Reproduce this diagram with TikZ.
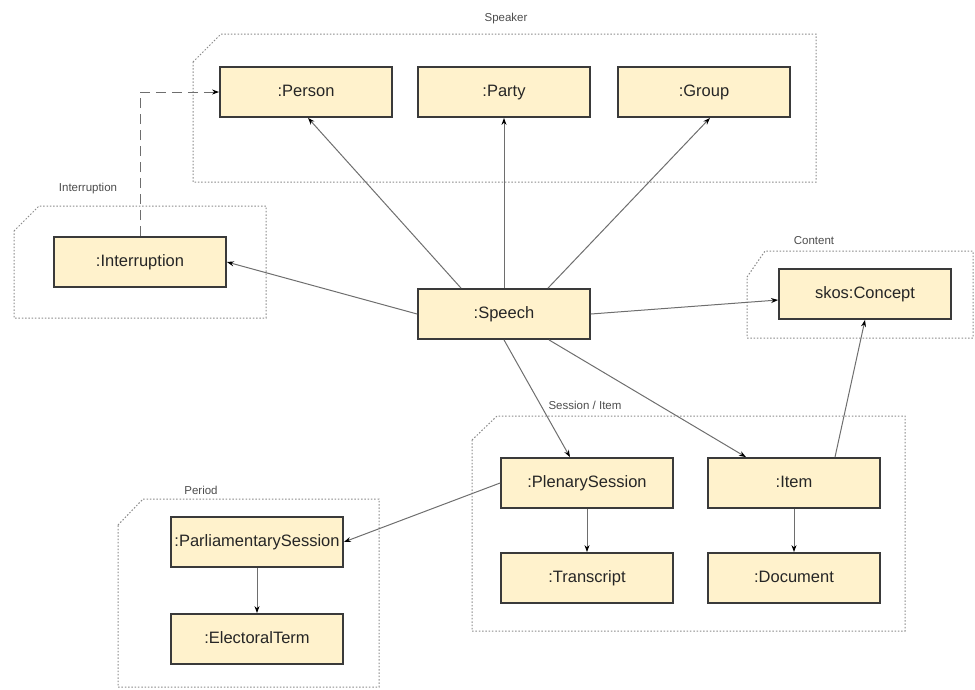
\documentclass[tikz,border=0pt]{standalone}
\usepackage{fontspec}
\setmainfont{Liberation Sans}
\usetikzlibrary{graphs,arrows.meta}
\definecolor{boxfill}{HTML}{FFF2CC}
\definecolor{boxline}{HTML}{3A3A3A}
\definecolor{linegray}{HTML}{6E6E6E}
\definecolor{areagray}{HTML}{8A8A8A}
\tikzset{
    entity/.style ={
        shape=rectangle,
        draw=boxline,
        fill=boxfill,
        line width=1.8pt,
        text=black!85,
        font=\fontsize{16.5}{18}\selectfont,
        text height=12pt,
        text depth=3.5pt,
        minimum width=172pt,
        minimum height=50pt
    },
    rel/.style ={
        draw=linegray,
        line width=1pt,
        ->
    },
    area/.style ={
        draw=areagray,
        line width=1pt,
        dash pattern=on 1.5pt off 1.8pt
    },
    grouplabel/.style ={
        text=black!70,
        font=\fontsize{11.5}{13}\selectfont
    }
}
\begin{document}
\begin{tikzpicture}[x=1pt,y=-1pt,>={Stealth[length=7pt,width=5pt,color=black]}]
    \useasboundingbox (0,0) rectangle (975,689);
    % groups
    \draw[area] (193,62) -- (221,34) -- (816,34) -- (816,182) -- (193,182) -- cycle;
    \draw[area] (14,231) -- (39,206) -- (266,206) -- (266,318) -- (14,318) -- cycle;
    \draw[area] (747,277) -- (765,251) -- (973,251) -- (973,338) -- (747,338) -- cycle;
    \draw[area] (472,440) -- (497,416) -- (905,416) -- (905,631) -- (472,631) -- cycle;
    \draw[area] (118,525) -- (143,499) -- (379,499) -- (379,687) -- (118,687) -- cycle;
    \node[grouplabel] (speakerlabel) at(506,19) {Speaker};
    \node[grouplabel] (interruptionlabel) at(88,189) {Interruption};
    \node[grouplabel] (contentlabel) at(814,241) {Content};
    \node[grouplabel] (sessionlabel) at(585,405) {Session / Item};
    \node[grouplabel] (periodlabel) at(201,490) {Period};
    % classes
    \node[entity] (person) at(306,92) {:Person};
    \node[entity] (party) at(504,92) {:Party};
    \node[entity] (group) at(704,92) {:Group};
    \node[entity] (interruption) at(140,262) {:Interruption};
    \node[entity] (speech) at(504,314) {:Speech};
    \node[entity] (concept) at(865,294) {skos:Concept};
    \node[entity] (plenary) at(587,483) {:PlenarySession};
    \node[entity] (item) at(794,483) {:Item};
    \node[entity] (transcript) at(587,578) {:Transcript};
    \node[entity] (document) at(794,578) {:Document};
    \node[entity] (parliamentary) at(257,542) {:ParliamentarySession};
    \node[entity] (electoral) at(257,639) {:ElectoralTerm};
    % relations
    \draw[rel] ([xshift=-43pt]speech.north) -- ([xshift=2pt]person.south);
    \draw[rel] ([xshift=44pt]speech.north) -- ([xshift=6pt]group.south);
    \draw[rel] (speech.west) -- (interruption.east);
    \draw[rel] (speech.east) -- ([yshift=-6pt]concept.west);
    \draw[rel] (speech.south) -- ([xshift=-17pt]plenary.north);
    \draw[rel] ([xshift=45pt]speech.south) -- ([xshift=-48pt]item.north);
    \draw[rel] ([xshift=41pt]item.north) -- (concept.south);
    \draw[rel] (plenary.west) -- (parliamentary.east);
    \draw[rel, dash pattern=on 10pt off 6pt] (interruption.north) |- (person.west);
    \graph[edges=rel]{
        (speech)->(party);
        (plenary)->(transcript);
        (item)->(document);
        (parliamentary)->(electoral);
    };
\end{tikzpicture}
\end{document}
